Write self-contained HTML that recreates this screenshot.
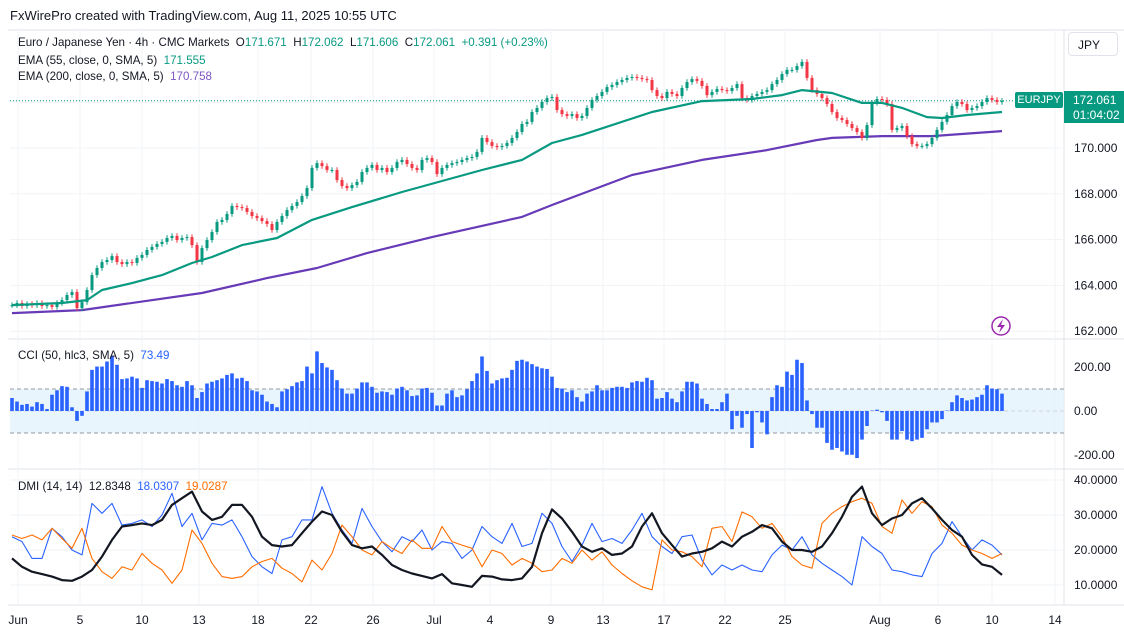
<!DOCTYPE html>
<html><head><meta charset="utf-8">
<style>
body{margin:0;background:#fff;font-family:"Liberation Sans",sans-serif;}
#wrap{position:relative;width:1124px;height:638px;overflow:hidden;}
.t{position:absolute;font-size:11.6px;color:#131722;white-space:nowrap;}
</style></head><body>
<div id="wrap">
<div class="t" style="left:10px;top:8px;font-size:13px;">FxWirePro created with TradingView.com, Aug 11, 2025 10:55 UTC</div>
<svg id="svg" width="1124" height="638" style="position:absolute;left:0;top:0"></svg>
<div class="t" style="left:18px;top:36px">Euro / Japanese Yen · 4h · CMC Markets &nbsp;O<span style="color:#089981">171.671</span> &nbsp;H<span style="color:#089981">172.062</span> &nbsp;L<span style="color:#089981">171.606</span> &nbsp;C<span style="color:#089981">172.061</span> &nbsp;<span style="color:#089981">+0.391 (+0.23%)</span></div>
<div class="t" style="left:18px;top:54px">EMA (55, close, 0, SMA, 5) &nbsp;<span style="color:#089981">171.555</span></div>
<div class="t" style="left:18px;top:70px">EMA (200, close, 0, SMA, 5) &nbsp;<span style="color:#7e57c2">170.758</span></div>
<div class="t" style="left:18px;top:349px">CCI (50, hlc3, SMA, 5) &nbsp;<span style="color:#2962ff">73.49</span></div>
<div class="t" style="left:18px;top:480px">DMI (14, 14) &nbsp;12.8348 &nbsp;<span style="color:#2962ff">18.0307</span> &nbsp;<span style="color:#ff6d00">19.0287</span></div>
<div class="t" style="left:1068px;top:32px;width:50px;height:24px;border:1px solid #e0e3eb;border-radius:4px;line-height:24px;padding-left:9px;box-sizing:border-box;font-size:12px">JPY</div>
<div class="t" style="left:1015px;top:92px;width:48px;height:16px;background:#089981;color:#fff;line-height:16px;text-align:center;font-size:11px;border-radius:2px">EURJPY</div>
<div class="t" style="left:1064px;top:91px;width:60px;height:32px;background:#089981;color:#fff;font-size:12px;line-height:15px;padding:2px 0 0 9px;box-sizing:border-box">172.061<br>01:04:02</div>
</div>
<script>
const closes=[163.14,163.23,163.10,163.19,163.14,163.23,163.10,163.14,163.06,163.23,163.36,163.58,163.71,163.01,163.27,163.80,164.45,164.76,165.02,165.11,165.28,165.02,164.93,165.02,164.98,165.20,165.33,165.55,165.68,165.81,165.90,166.07,166.16,165.98,166.07,166.11,165.76,165.02,165.63,165.98,166.33,166.77,166.86,167.12,167.47,167.42,167.38,167.21,167.03,166.94,166.81,166.68,166.42,166.77,167.03,167.29,167.47,167.64,167.90,168.25,169.13,169.34,169.21,169.04,169.04,168.60,168.34,168.25,168.38,168.52,168.95,169.13,169.26,169.04,169.13,168.95,169.13,169.39,169.48,169.30,169.13,169.04,169.48,169.56,169.39,168.86,169.13,169.26,169.34,169.39,169.48,169.56,169.61,169.83,170.44,170.26,170.09,170.04,170.09,170.22,170.44,170.70,171.05,171.14,171.57,171.75,172.01,172.18,172.23,171.66,171.48,171.40,171.48,171.31,171.40,171.75,172.10,172.27,172.45,172.66,172.75,172.88,172.97,173.06,173.10,173.06,173.01,172.97,172.53,172.27,172.18,172.45,172.36,172.27,172.62,172.88,173.01,172.93,172.71,172.31,172.45,172.58,172.53,172.49,172.62,172.79,172.18,172.10,172.27,172.36,172.45,172.53,172.79,172.97,173.23,173.41,173.41,173.58,173.76,173.06,172.53,172.36,172.18,171.92,171.57,171.31,171.22,171.05,170.87,170.70,170.44,171.00,171.97,172.14,172.10,171.92,170.79,170.87,170.96,170.52,170.17,170.09,170.09,170.17,170.44,170.79,171.14,171.44,171.83,172.01,171.92,171.66,171.75,171.83,172.01,172.18,172.10,172.01,172.06];
const ema55Idx=[0,10,15,18,24,30,36,40,46,53,60,68,78,86,94,102,108,114,128,138,148,154,158,164,170,174,178,183,186,191,198];
const ema55Val=[163.14,163.23,163.36,163.80,164.10,164.45,164.98,165.24,165.76,166.07,166.86,167.42,168.08,168.56,169.04,169.48,170.22,170.57,171.57,172.05,172.14,172.31,172.53,172.40,171.97,171.97,171.75,171.35,171.31,171.44,171.57];
const ema200Idx=[0,14,38,51,61,71,84,102,108,124,138,151,161,164,174,184,198];
const ema200Val=[162.79,162.92,163.67,164.32,164.76,165.41,166.11,166.99,167.51,168.82,169.48,169.91,170.35,170.44,170.52,170.52,170.74];
const cci=[59,43,28,32,20,40,32,9,74,94,113,110,17,-45,-22,89,187,202,202,225,248,210,145,148,156,148,105,140,136,133,125,145,136,117,110,136,117,59,86,125,133,140,148,164,171,148,151,136,94,89,74,43,32,17,89,99,113,130,136,202,171,271,218,198,187,140,102,79,79,102,130,130,110,83,89,86,74,102,110,94,68,71,102,105,83,25,25,79,94,63,71,99,136,171,248,182,125,140,148,151,187,228,
233,225,213,202,194,191,156,105,102,86,94,63,43,79,89,117,94,94,105,110,110,105,130,136,133,151,140,56,59,86,56,40,89,133,133,125,56,32,9,9,40,79,-83,-22,-76,-14,-168,-6,-52,-106,63,117,110,179,164,233,218,48,-14,-76,-76,-145,-176,-168,-184,-199,-199,-214,-130,-68,2,6,-6,-45,-130,-130,-91,-130,-137,-130,-122,-83,-52,-52,-37,2,40,71,59,48,52,63,74,117,102,99,79];
const adx=[17.6,15.2,13.8,13.1,12.4,11.4,11.2,12.4,14.3,18.1,22.9,26.7,27.1,27.6,27.1,28.6,32.9,34.8,36.7,31.0,28.6,29.5,32.9,32.9,29.5,23.8,21.4,21.0,21.4,24.8,28.1,31.0,30.0,25.2,21.4,20.5,21.0,18.6,15.7,14.3,13.3,12.6,11.9,13.1,10.5,10.0,9.5,12.6,12.4,11.6,11.4,
11.9,15.2,24.8,31.6,29.0,25.2,21.0,19.5,20.5,18.6,19.0,21.0,26.7,30.5,24.8,21.4,18.1,19.0,19.5,20.5,22.4,21.0,23.8,25.2,27.1,26.2,22.4,20.0,20.0,19.5,21.0,24.8,29.5,35.2,38.1,30.5,27.1,29.0,30.0,33.3,34.8,31.9,28.6,25.7,23.8,18.6,15.9,15.2,12.9];
const plusDI=[23.8,22.4,17.6,17.6,26.2,23.8,20.0,18.6,33.3,30.5,33.3,27.1,27.6,28.6,26.7,30.0,36.2,26.7,30.5,22.9,27.6,27.1,28.6,23.8,18.1,15.2,13.3,22.9,23.8,28.6,28.6,38.1,30.5,25.7,21.9,31.9,26.7,22.4,19.5,23.8,22.4,25.7,20.0,22.4,21.9,17.6,20.0,26.7,23.8,21.9,27.6,
21.0,21.9,30.5,27.6,21.0,16.7,21.4,27.6,22.4,23.3,21.9,25.7,30.5,23.8,21.0,19.0,23.8,24.3,17.1,12.9,15.7,14.3,15.7,14.3,13.8,18.6,21.4,20.0,23.8,18.6,16.2,14.3,12.4,10.0,23.8,21.0,19.0,14.3,13.8,12.9,12.4,19.0,21.9,28.1,23.8,20.0,22.9,21.4,18.6];
const minusDI=[24.3,23.3,24.3,22.9,26.2,23.3,20.5,26.2,17.6,13.8,11.9,15.2,14.3,19.0,16.2,14.3,10.5,14.3,25.7,21.9,16.2,12.4,11.9,12.4,15.2,16.7,17.6,14.8,13.3,10.9,17.1,14.3,19.0,27.1,23.8,20.0,18.6,22.4,20.5,19.0,22.9,20.5,20.5,26.7,22.4,21.4,20.5,15.2,20.0,19.0,15.7,
17.6,16.2,13.8,14.3,17.6,16.2,20.0,17.1,19.5,15.7,13.3,11.2,9.5,8.6,22.9,20.0,19.5,18.1,15.2,26.2,26.7,22.4,30.9,29.5,26.2,27.6,23.8,18.1,15.7,14.8,27.6,30.5,32.4,33.8,34.8,33.3,26.7,24.8,34.3,30.5,33.8,32.4,27.1,24.8,21.4,20.0,19.0,17.6,19.0,19.0];
const priceTicks=[170,168,166,164,162];
const cciTicks=[200,0,-200];
const dmiTicks=[40,30,20,10];
const dateLabels=["Jun","5","10","13","18","22","26","Jul","4","9","13","17","22","25","Aug","6","10","14"];
const datePos=[18,80,142,199,258,311,373,434,490,551,603,664,725,785,880,938,992,1055];

const S=document.getElementById('svg');const NS='http://www.w3.org/2000/svg';
function mk(tag,at,name,parent){const e=document.createElementNS(NS,tag);for(const k in at)e.setAttribute(k,at[k]);


(parent||S).appendChild(e);return e;}
const X0=12,STEP=5,PL=10,PR=1064;
const xI=i=>X0+i*STEP;
const yP=p=>148-(p-170)*22.9;
const yC=v=>411-v*0.22;
const yD=v=>480+(40-v)*3.5;
mk('line',{x1:8,y1:30,x2:1124,y2:30,stroke:'#e0e3eb'},'chart-top-border');
mk('line',{x1:PR,y1:30,x2:PR,y2:605,stroke:'#e0e3eb'},'price-axis-border');
mk('line',{x1:8,y1:339,x2:1124,y2:339,stroke:'#e0e3eb'},'pane-separator-1');
mk('line',{x1:8,y1:469,x2:1124,y2:469,stroke:'#e0e3eb'},'pane-separator-2');
mk('line',{x1:8,y1:605,x2:1124,y2:605,stroke:'#e0e3eb'},'time-axis-border');
datePos.forEach((x,k)=>{mk('line',{x1:x,y1:30,x2:x,y2:605,stroke:'#f2f3f6'},'grid-vertical');
const t=mk('text',{x:x,y:624,'font-size':12,fill:'#131722','text-anchor':'middle','font-family':'Liberation Sans, sans-serif'},'date-label');t.textContent=dateLabels[k];});
priceTicks.forEach(p=>{mk('line',{x1:PL,y1:yP(p),x2:PR,y2:yP(p),stroke:'#f2f3f6'},'grid-price');
const t=mk('text',{x:1074,y:yP(p)+4,'font-size':12,fill:'#131722','font-family':'Liberation Sans, sans-serif'},'price-tick');t.textContent=p.toFixed(3);});
mk('line',{x1:PL,y1:yP(172),x2:PR,y2:yP(172),stroke:'#f2f3f6'},'grid-price');
mk('line',{x1:PL,y1:yP(172.061),x2:1015,y2:yP(172.061),stroke:'#089981','stroke-dasharray':'1 2','stroke-width':1},'last-price-line');
function line(idx,vals,fy,col,w,name){let d='';idx.forEach((i,k)=>{d+=(k?'L':'M')+xI(i)+' '+fy(vals[k]).toFixed(1);});
mk('path',{d:d,fill:'none',stroke:col,'stroke-width':w,'stroke-linejoin':'round'},name);}
line(ema200Idx,ema200Val,yP,'#673ab7',2.2,'ema200-line');
closes.forEach((c,i)=>{const o=i?closes[i-1]:c;const up=c>=o;const col=up?'#089981':'#f23645';
const hi=Math.max(o,c)+0.12,lo=Math.min(o,c)-0.12;const x=xI(i);
mk('line',{x1:x,y1:yP(hi),x2:x,y2:yP(lo),stroke:col,'stroke-width':1},'candle-wick');
const y1=yP(Math.max(o,c)),y2=yP(Math.min(o,c));
mk('rect',{x:x-1.5,y:y1,width:3,height:Math.max(1,y2-y1),fill:col},'candle-body');});
line(ema55Idx,ema55Val,yP,'#089981',2.2,'ema55-line');
mk('circle',{cx:1001,cy:326,r:9,fill:'none',stroke:'#9c27b0','stroke-width':1.5},'alert-icon');
mk('path',{d:'M1003 319 L997 327 L1001 327 L999 333 L1005 325 L1001 325 Z',fill:'#9c27b0'},'alert-icon-bolt');
mk('rect',{x:PL,y:yC(100),width:PR-PL,height:yC(-100)-yC(100),fill:'#e3f2fd','fill-opacity':0.8},'cci-band');
[100,-100].forEach(v=>mk('line',{x1:PL,y1:yC(v),x2:PR,y2:yC(v),stroke:'#9598a1','stroke-dasharray':'4 3'},'cci-band-line'));
mk('line',{x1:PL,y1:yC(0),x2:PR,y2:yC(0),stroke:'#d1d4dc','stroke-dasharray':'4 3'},'cci-zero-line');
cciTicks.forEach(v=>{const t=mk('text',{x:1074,y:yC(v)+4,'font-size':12,fill:'#131722','font-family':'Liberation Sans, sans-serif'},'cci-tick');t.textContent=v.toFixed(2);});
cci.forEach((v,i)=>{const y=Math.min(yC(v),yC(0));mk('rect',{x:xI(i)-1.8,y:y,width:3.6,height:Math.abs(yC(v)-yC(0)),fill:'#2962ff'},'cci-bar');});
dmiTicks.forEach(v=>{mk('line',{x1:PL,y1:yD(v),x2:PR,y2:yD(v),stroke:'#f2f3f6'},'grid-dmi');
const t=mk('text',{x:1074,y:yD(v)+4,'font-size':12,fill:'#131722','font-family':'Liberation Sans, sans-serif'},'dmi-tick');t.textContent=v.toFixed(4);});
const dIdx=adx.map((_,k)=>k*2);
line(dIdx,plusDI,yD,'#2962ff',1.1,'plus-di-line');
line(dIdx,minusDI,yD,'#ff6d00',1.1,'minus-di-line');
line(dIdx,adx,yD,'#131722',2.2,'adx-line');
</script>
</body></html>
